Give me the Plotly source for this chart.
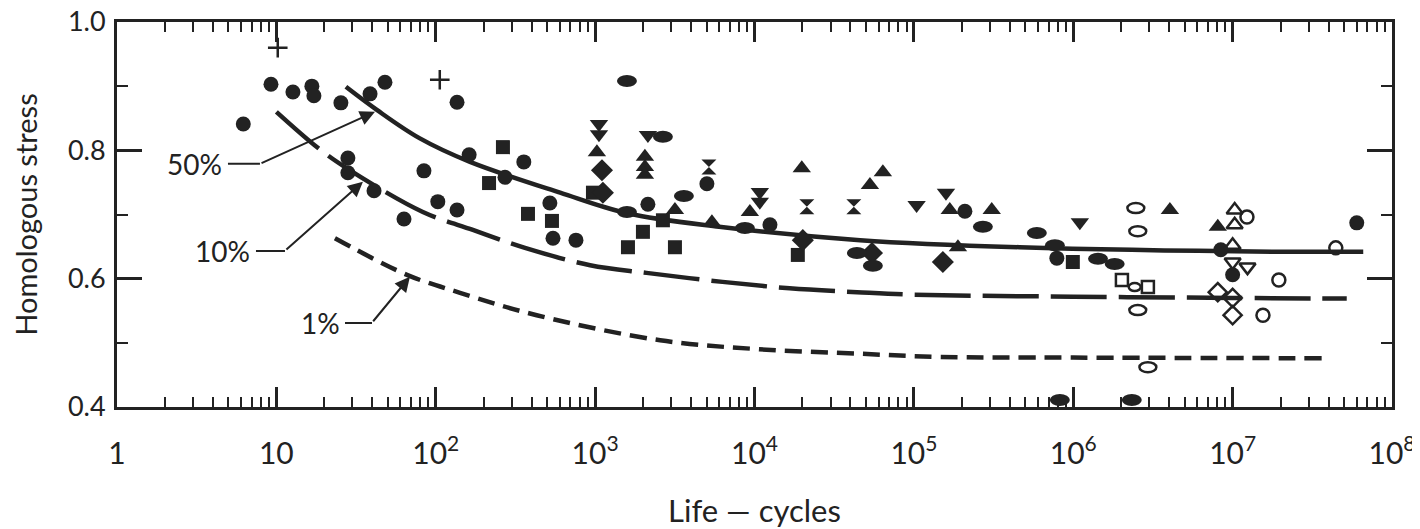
import plotly.graph_objects as go

# ---------------- axis ticks ----------------
x_tick_vals = [1, 10, 1e2, 1e3, 1e4, 1e5, 1e6, 1e7, 1e8]
x_tick_text = ["1", "10", "10<sup>2</sup>", "10<sup>3</sup>", "10<sup>4</sup>",
               "10<sup>5</sup>", "10<sup>6</sup>", "10<sup>7</sup>", "10<sup>8</sup>"]
y_tick_vals = [0.4, 0.6, 0.8, 1.0]
y_tick_text = ["0.4", "0.6", "0.8", "1.0"]

# ---------------- probability curves ----------------
curve50_x = [27.3, 42.7, 79, 164, 603, 1585, 6000, 4.6e4, 4.6e5, 2e7, 6.6e7]
curve50_y = [0.899, 0.863, 0.819, 0.782, 0.734, 0.702, 0.681, 0.660, 0.649, 0.642, 0.642]

curve10_x = [10, 18.2, 27.7, 83, 171, 363, 930, 2100, 6300, 1.66e4, 4.4e4, 1e5, 1e6, 1e7, 5.2e7]
curve10_y = [0.860, 0.804, 0.772, 0.704, 0.676, 0.648, 0.621, 0.609, 0.595, 0.585, 0.579,
             0.575, 0.572, 0.570, 0.569]

curve1_x = [23.3, 66, 142, 430, 2560, 1.07e4, 4.6e4, 1.45e5, 1e6, 3.8e7]
curve1_y = [0.663, 0.606, 0.578, 0.543, 0.504, 0.490, 0.483, 0.478, 0.477, 0.476]

# ---------------- data points ----------------
fcircle_x = [6.2, 9.25, 12.7, 16.7, 17.2, 25.4, 38.7, 48.0, 136, 28.1, 28.1, 41.0, 84.3,
             103, 136, 63.2, 162, 272, 357, 520, 544, 758, 2144, 5027, 1.25e4, 2.09e5,
             7.89e5, 8.43e6, 1.0e7, 6.01e7]
fcircle_y = [0.841, 0.903, 0.891, 0.900, 0.885, 0.874, 0.888, 0.906, 0.875, 0.788, 0.765,
             0.737, 0.768, 0.720, 0.707, 0.693, 0.793, 0.758, 0.782, 0.718, 0.663, 0.660,
             0.716, 0.748, 0.684, 0.705, 0.632, 0.645, 0.606, 0.687]

plus_x = [10.2, 106]
plus_y = [0.960, 0.910]

fsquare_x = [264, 216, 379, 536, 969, 1995, 1607, 3168, 2663, 1.87e4, 9.94e5]
fsquare_y = [0.805, 0.749, 0.701, 0.690, 0.734, 0.673, 0.649, 0.649, 0.691, 0.637, 0.626]

ftri_up_x = [1026, 2053, 2053, 2053, 3168, 5405, 9354, 1.98e4, 5.3e4, 6.39e4, 1.68e5,
             1.89e5, 3.08e5, 4.04e6, 8.07e6]
ftri_up_y = [0.797, 0.790, 0.774, 0.762, 0.707, 0.688, 0.704, 0.772, 0.746, 0.766, 0.707,
             0.649, 0.707, 0.707, 0.681]

ftri_dn_x = [1057, 1057, 2144, 1.08e4, 1.08e4, 1.04e5, 1.59e5, 1.10e6]
ftri_dn_y = [0.841, 0.825, 0.824, 0.735, 0.720, 0.715, 0.734, 0.688]

fdiamond_x = [1104, 1119, 2.01e4, 5.46e4, 1.52e5]
fdiamond_y = [0.769, 0.734, 0.660, 0.640, 0.626]

hourglass_x = [5176, 2.13e4, 4.2e4]
hourglass_y = [0.774, 0.712, 0.712]

fellipse_x = [1584, 2663, 3606, 1584, 8710, 4.39e4, 5.53e4, 2.71e5, 5.91e5, 7.67e5,
              1.43e6, 1.82e6, 8.24e5, 2.33e6]
fellipse_y = [0.908, 0.821, 0.729, 0.704, 0.679, 0.640, 0.620, 0.681, 0.671, 0.652,
              0.631, 0.623, 0.411, 0.411]

oellipse_x = [2.47e6, 2.54e6, 2.43e6, 2.54e6, 2.94e6]
oellipse_y = [0.710, 0.674, 0.587, 0.551, 0.462]

osquare_x = [2.02e6, 2.94e6]
osquare_y = [0.598, 0.587]

otri_up_x = [1.03e7, 1.03e7, 1.0e7]
otri_up_y = [0.707, 0.684, 0.652]

otri_dn_x = [1.0e7, 1.24e7]
otri_dn_y = [0.626, 0.618]

odiamond_x = [8.07e6, 1.0e7, 1.0e7]
odiamond_y = [0.579, 0.570, 0.543]

ocircle_x = [1.23e7, 1.95e7, 1.55e7, 4.44e7]
ocircle_y = [0.696, 0.598, 0.543, 0.648]

INK = "#222222"
FONT = "Lato"

fig = go.Figure()

# curves
fig.add_trace(go.Scatter(x=curve50_x, y=curve50_y, mode="lines", line_shape="spline",
                         line=dict(color=INK, width=4.5), hoverinfo="skip"))
fig.add_trace(go.Scatter(x=curve10_x, y=curve10_y, mode="lines", line_shape="spline",
                         line=dict(color=INK, width=4.5, dash="56px,12px"), hoverinfo="skip"))
fig.add_trace(go.Scatter(x=curve1_x, y=curve1_y, mode="lines", line_shape="spline",
                         line=dict(color=INK, width=4.5, dash="17px,9px"), hoverinfo="skip"))


def filled(xs, ys, symbol, size):
    fig.add_trace(go.Scatter(x=xs, y=ys, mode="markers",
                             marker=dict(symbol=symbol, size=size, color=INK,
                                         line=dict(width=0))))


def opened(xs, ys, symbol, size):
    fig.add_trace(go.Scatter(x=xs, y=ys, mode="markers",
                             marker=dict(symbol=symbol, size=size, color=INK,
                                         line=dict(width=2.5, color=INK))))


filled(fcircle_x, fcircle_y, "circle", 15)
filled(fsquare_x, fsquare_y, "square", 14)
filled(ftri_up_x, ftri_up_y, "triangle-up", 16)
filled(ftri_dn_x, ftri_dn_y, "triangle-down", 16)
filled(fdiamond_x, fdiamond_y, "diamond", 17)
filled(hourglass_x, hourglass_y, "hourglass", 15)
opened(plus_x, plus_y, "cross-thin", 14)
opened(osquare_x, osquare_y, "square-open", 12)
opened(otri_up_x, otri_up_y, "triangle-up-open", 14)
opened(otri_dn_x, otri_dn_y, "triangle-down-open", 14)
opened(odiamond_x, odiamond_y, "diamond-open", 14)
opened(ocircle_x, ocircle_y, "circle-open", 13)

# ellipses (no ellipse marker in plotly): shapes centred on the data points,
# horizontal extent as a factor of x on the log axis, vertical extent in pixels
ELL_W = 1.155       # half-width factor  (~10 px on this log axis)
ELL_W_SMALL = 1.09
shapes = []
for xv, yv in zip(fellipse_x, fellipse_y):
    shapes.append(dict(type="circle", xref="x", yref="y", ysizemode="pixel",
                       yanchor=yv, x0=xv / ELL_W, x1=xv * ELL_W, y0=-6, y1=6,
                       fillcolor=INK, line=dict(width=0)))
for i, (xv, yv) in enumerate(zip(oellipse_x, oellipse_y)):
    f, hh = (ELL_W_SMALL, 4) if i == 2 else (1.13, 5)
    shapes.append(dict(type="circle", xref="x", yref="y", ysizemode="pixel",
                       yanchor=yv, x0=xv / f, x1=xv * f, y0=-hh, y1=hh,
                       fillcolor="white", line=dict(width=2.5, color=INK)))

# leader labels: (label, text-offset, bend(log x, y), tip(log x, y), arrow offset px)
labels = [
    ("50%", -65, (0.897, 0.779), (1.619, 0.860), (-115, 52)),
    ("10%", -62, (1.054, 0.643), (1.543, 0.751), (-78, 69)),
    ("1%", -52, (1.600, 0.531), (1.838, 0.603), (-38, 46)),
]
annotations = []
for text, tx, bend, tip, off in labels:
    annotations.append(dict(x=bend[0], y=bend[1], xref="x", yref="y", text=text,
                            showarrow=True, arrowhead=0, arrowwidth=2, arrowcolor=INK,
                            ax=tx, ay=0, borderpad=5, standoff=0,
                            font=dict(family=FONT, size=28, color=INK)))
    annotations.append(dict(x=tip[0], y=tip[1], xref="x", yref="y", text="",
                            showarrow=True, arrowhead=2, arrowsize=1.5, arrowwidth=2,
                            arrowcolor=INK, ax=off[0], ay=off[1], standoff=0))

# the page body adds an 8 px margin, so the figure is 8 px smaller than the window
fig.update_layout(
    width=1412, height=521,
    margin=dict(l=109, r=28, t=14, b=122, autoexpand=False),
    paper_bgcolor="white", plot_bgcolor="white",
    showlegend=False,
    shapes=shapes, annotations=annotations,
    font=dict(family=FONT, color=INK),
)
fig.update_xaxes(
    type="log", range=[0, 8], tickvals=x_tick_vals, ticktext=x_tick_text,
    automargin=False, ticklabeloverflow="allow",
    ticks="inside", ticklen=20, tickwidth=2.5, tickcolor=INK,
    showline=True, linewidth=3, linecolor=INK, mirror="ticks",
    showgrid=False, zeroline=False,
    tickfont=dict(family=FONT, size=30, color=INK), ticklabelstandoff=18,
    minor=dict(ticks="inside", ticklen=10, tickwidth=2, tickcolor=INK, dtick="D1",
               showgrid=False),
    title=dict(text="Life — cycles", font=dict(family=FONT, size=31, color=INK), standoff=38),
)
fig.update_yaxes(
    range=[0.4, 1.0], tickvals=y_tick_vals, ticktext=y_tick_text,
    automargin=False, ticklabeloverflow="allow",
    ticks="inside", ticklen=25, tickwidth=2.5, tickcolor=INK,
    showline=True, linewidth=3, linecolor=INK, mirror="ticks",
    showgrid=False, zeroline=False,
    tickfont=dict(family=FONT, size=27, color=INK), ticklabelstandoff=3,
    minor=dict(ticks="inside", ticklen=11, tickwidth=2, tickcolor=INK, dtick=0.1,
               showgrid=False),
    title=dict(text="Homologous stress", font=dict(family=FONT, size=29, color=INK), standoff=27),
)

fig.write_html("out.html")
